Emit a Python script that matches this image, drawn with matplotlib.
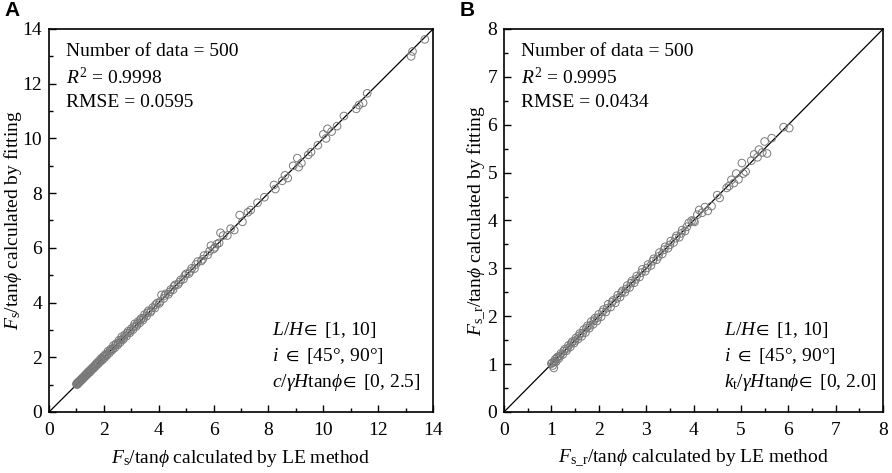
import numpy as np
import matplotlib
matplotlib.use("Agg")
import matplotlib.pyplot as plt
from matplotlib.ticker import MultipleLocator

plt.rcParams['font.family'] = ['Liberation Serif', 'DejaVu Serif']
plt.rcParams['mathtext.fontset'] = 'custom'
plt.rcParams['mathtext.rm'] = 'Liberation Serif'
plt.rcParams['mathtext.it'] = 'Liberation Serif:italic'
plt.rcParams['mathtext.fallback'] = 'stix'

# ---------------- Panel A data ----------------
A_le_1 = [1.00,1.02,1.04,1.05,1.07,1.10,1.12,1.15,1.18,1.20,1.23,1.26,1.30,1.33,1.36,1.40,1.43,1.47,1.50,1.54,
          1.58,1.62,1.66,1.70,1.74,1.78,1.82,1.86,1.90,1.94,1.98,2.02,2.06,2.10,2.15,2.20,2.25,2.30,2.35,2.40,
          2.45,2.50,2.55,2.60,2.65,2.70,2.76,2.82,2.88,2.94,3.00,3.06,3.12,3.18,3.24,3.30,3.36,3.42,3.48,3.55,
          3.62,3.70,3.78,3.86,3.94,4.02,4.10,4.18,4.26,4.35,4.44,4.52,4.60,4.70,4.80,4.90,5.00,5.10,5.20,5.30,
          5.42,5.55,5.65,5.78,5.90,6.00,6.12,6.25,6.35,6.50,6.62,6.75,6.95,7.05,7.25,7.35,7.60,7.85,8.20,8.25,
          8.50,8.60,8.70,8.90,9.05,9.10,9.20,9.45,9.55,9.80,10.00,10.10,10.15,10.30,10.50,10.75,11.20,11.30,11.45,11.60,
          13.20,13.25,13.70]
A_fit_1 = [1.02,1.00,1.07,1.03,1.10,1.08,1.15,1.13,1.21,1.18,1.26,1.24,1.33,1.31,1.40,1.38,1.47,1.44,1.54,1.51,
           1.62,1.59,1.70,1.67,1.79,1.75,1.87,1.83,1.96,1.90,2.03,1.98,2.11,2.06,2.22,2.16,2.30,2.26,2.43,2.35,
           2.50,2.45,2.62,2.55,2.75,2.65,2.82,2.77,2.95,2.89,3.05,3.01,3.22,3.13,3.30,3.25,3.42,3.36,3.56,3.50,
           3.70,3.65,3.82,3.80,3.98,3.97,4.28,4.15,4.32,4.30,4.48,4.47,4.65,4.66,4.83,4.86,5.05,5.06,5.25,5.24,
           5.50,5.52,5.72,5.74,6.08,5.96,6.14,6.55,6.45,6.45,6.70,6.65,7.20,6.95,7.30,7.38,7.65,7.85,8.30,8.15,
           8.45,8.65,8.55,9.00,9.28,8.95,9.10,9.40,9.50,9.75,10.15,10.00,10.35,10.25,10.45,10.82,11.08,11.22,11.30,11.65,
           13.00,13.18,13.62]
A_le_2 = [1.01,1.06,1.11,1.16,1.22,1.28,1.34,1.41,1.48,1.56,1.64,1.72,1.80,1.88,1.96,2.04,2.12,2.22,2.32,2.42,
          2.52,2.62,2.72,2.85,2.97,3.09,3.21,3.33,3.45,3.58,3.72,3.88,4.05,4.22,4.40,4.56,4.75,4.95,5.15,5.35,
          5.60,5.85,6.05,6.20]
A_fit_2 = [1.04,1.05,1.12,1.17,1.21,1.30,1.33,1.43,1.47,1.58,1.63,1.74,1.79,1.90,1.95,2.06,2.11,2.24,2.31,2.45,
           2.51,2.64,2.71,2.88,2.96,3.12,3.20,3.37,3.44,3.62,3.71,3.92,4.04,4.26,4.39,4.60,4.74,4.99,5.14,5.39,
           5.58,5.88,6.02,6.18]

# ---------------- Panel B data ----------------
B_le_1 = [1.00,1.03,1.05,1.06,1.08,1.10,1.13,1.16,1.20,1.24,1.28,1.32,1.36,1.40,1.44,1.48,1.52,1.56,1.60,1.64,
          1.68,1.72,1.76,1.80,1.84,1.88,1.92,1.96,2.00,2.05,2.10,2.15,2.20,2.25,2.30,2.35,2.40,2.45,2.50,2.55,
          2.60,2.65,2.70,2.75,2.80,2.86,2.92,2.98,3.04,3.10,3.16,3.22,3.28,3.34,3.40,3.46,3.52,3.58,3.64,3.70,
          3.76,3.82,3.90,3.96,4.02,4.08,4.12,4.18,4.24,4.30,4.38,4.50,4.55,4.70,4.75,4.80,4.85,4.90,4.95,5.02,
          5.05,5.10,5.22,5.28,5.35,5.38,5.45,5.50,5.55,5.65,5.90,6.02]
B_fit_1 = [1.01,0.97,0.92,1.04,1.10,1.05,1.15,1.12,1.22,1.20,1.31,1.28,1.39,1.36,1.47,1.44,1.55,1.52,1.64,1.58,
           1.72,1.66,1.80,1.75,1.89,1.83,1.96,1.90,2.04,1.99,2.14,2.09,2.25,2.19,2.33,2.28,2.44,2.40,2.53,2.50,
           2.64,2.60,2.74,2.70,2.84,2.82,2.98,2.94,3.08,3.06,3.20,3.18,3.33,3.30,3.45,3.42,3.57,3.54,3.68,3.65,
           3.80,3.78,3.95,4.00,3.97,4.12,4.22,4.16,4.28,4.20,4.30,4.53,4.47,4.68,4.72,4.85,4.78,4.98,4.86,5.20,
           4.98,5.02,5.25,5.38,5.32,5.48,5.42,5.65,5.40,5.72,5.95,5.93]
B_le_2 = [1.02,1.07,1.12,1.18,1.26,1.34,1.42,1.50,1.58,1.66,1.74,1.82,1.90,1.98,2.08,2.18,2.28,2.38,2.48,2.58,
          2.68,2.78,2.90,3.02,3.14,3.26,3.38,3.50,3.62,3.74,3.86,4.00]
B_fit_2 = [1.03,1.06,1.13,1.17,1.27,1.33,1.43,1.49,1.59,1.65,1.75,1.81,1.91,1.97,2.09,2.17,2.29,2.37,2.49,2.57,
           2.69,2.77,2.91,3.01,3.15,3.25,3.39,3.49,3.63,3.73,3.87,3.99]

panels = [
    dict(le=A_le_1 + A_le_2, fit=A_fit_1 + A_fit_2, lim=14, major=2, minor=1, tag='A',
         xlabel=r'$F_\mathrm{s}$/tan$\phi$ calculated by LE method',
         ylabel=r'$F_\mathrm{s}$/tan$\phi$ calculated by fitting',
         stats=['Number of data = 500', r'$R^2$ = 0.9998', 'RMSE = 0.0595'],
         ranges=[r'$L\mathrm{/}H\!\in$ [1, 10]', r'$i$ $\in$ [45°, 90°]',
                 r'$c\mathrm{/}\gamma H\mathrm{tan}\phi\!\in$ [0, 2.5]'],
         rect=[0.055, 0.129, 0.4305, 0.8097]),
    dict(le=B_le_1 + B_le_2, fit=B_fit_1 + B_fit_2, lim=8, major=1, minor=0.5, tag='B',
         xlabel=r'$F_\mathrm{s\_r}$/tan$\phi$ calculated by LE method',
         ylabel=r'$F_\mathrm{s\_r}$/tan$\phi$ calculated by fitting',
         stats=['Number of data = 500', r'$R^2$ = 0.9995', 'RMSE = 0.0434'],
         ranges=[r'$L\mathrm{/}H\!\in$ [1, 10]', r'$i$ $\in$ [45°, 90°]',
                 r'$k_\mathrm{t}\mathrm{/}\gamma H\mathrm{tan}\phi\!\in$ [0, 2.0]'],
         rect=[0.565, 0.129, 0.425, 0.8097]),
]

fig = plt.figure(figsize=(8.92, 4.73), dpi=100)

for p in panels:
    ax = fig.add_axes(p['rect'])
    ax.plot([0, p['lim']], [0, p['lim']], color='black', lw=0.9, zorder=2)
    ax.scatter(p['le'], p['fit'], s=30, facecolors='none', edgecolors='#7a7a7a',
               linewidths=0.7, zorder=3)
    ax.set_xlim(0, p['lim'])
    ax.set_ylim(0, p['lim'])
    ax.xaxis.set_major_locator(MultipleLocator(p['major']))
    ax.yaxis.set_major_locator(MultipleLocator(p['major']))
    ax.xaxis.set_minor_locator(MultipleLocator(p['minor']))
    ax.yaxis.set_minor_locator(MultipleLocator(p['minor']))
    ax.tick_params(which='both', direction='in', top=False, right=False, labelsize=14)
    ax.tick_params(which='major', length=5, width=1.0)
    ax.tick_params(axis='x', which='major', pad=7)
    ax.tick_params(axis='y', which='major', pad=5)
    ax.tick_params(which='minor', length=3, width=1.0)
    for sp in ax.spines.values():
        sp.set_linewidth(1.2)
    ax.set_xlabel(p['xlabel'], fontsize=14, labelpad=7)
    ax.set_ylabel(p['ylabel'], fontsize=14, labelpad=-1)
    for i, s in enumerate(p['stats']):
        ax.text(0.045, 0.94 - i * 0.066, s, transform=ax.transAxes, fontsize=14,
                ha='left', va='center')
    for i, s in enumerate(p['ranges']):
        ax.text(0.58, 0.214 - i * 0.069, s, transform=ax.transAxes, fontsize=14,
                ha='left', va='center')
    x0 = p['rect'][0]
    fig.text(x0 - 0.05, 0.998, p['tag'], fontsize=15, fontweight='bold',
             family='Liberation Sans', ha='left', va='top')

fig.savefig('out.png', dpi=100)
